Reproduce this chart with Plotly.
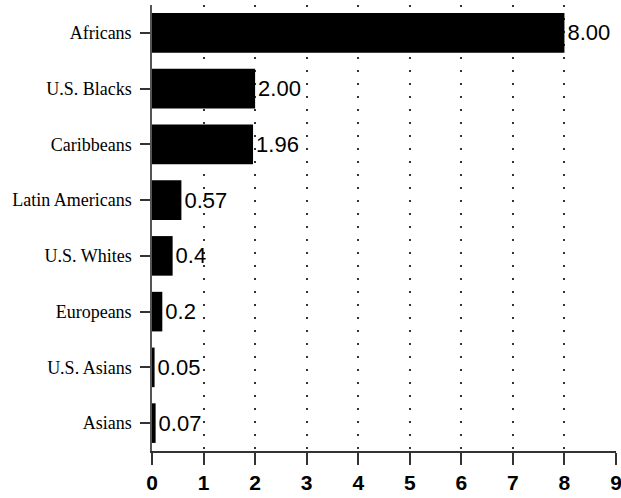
import plotly.graph_objects as go

categories = ["Africans", "U.S. Blacks", "Caribbeans", "Latin Americans",
              "U.S. Whites", "Europeans", "U.S. Asians", "Asians"]
values = [8.00, 2.00, 1.96, 0.57, 0.4, 0.2, 0.05, 0.07]
value_labels = ["8.00", "2.00", "1.96", "0.57", "0.4", "0.2", "0.05", "0.07"]
x_ticks = [0, 1, 2, 3, 4, 5, 6, 7, 8, 9]

fig = go.Figure(go.Bar(
    x=values,
    y=categories,
    orientation="h",
    marker=dict(color="black", line=dict(width=0)),
    text=value_labels,
    textposition="outside",
    textfont=dict(family="Liberation Sans", size=22, color="black"),
    constraintext="none",
    cliponaxis=False,
))

fig.update_layout(
    width=621,
    height=498,
    margin=dict(l=152, r=5, t=5, b=47, autoexpand=False),
    paper_bgcolor="white",
    plot_bgcolor="white",
    bargap=0.29,
    showlegend=False,
)

fig.update_xaxes(
    range=[0, 9],
    tickvals=x_ticks,
    ticktext=[str(t) for t in x_ticks],
    showgrid=True,
    gridcolor="#333333",
    gridwidth=2,
    griddash="2px,11px",
    zeroline=False,
    showline=True,
    linecolor="#333333",
    linewidth=1.5,
    ticks="outside",
    ticklen=12,
    tickwidth=1.5,
    tickcolor="#333333",
    tickfont=dict(family="Liberation Sans", size=21, color="black", weight="bold"),
    ticklabelstandoff=0,
    ticklabeloverflow="allow",
    automargin=False,
    fixedrange=True,
)

fig.update_yaxes(
    categoryorder="array",
    categoryarray=categories,
    autorange="reversed",
    showgrid=False,
    zeroline=False,
    showline=True,
    linecolor="#555555",
    linewidth=1.5,
    ticks="outside",
    ticklen=10,
    tickwidth=1.5,
    tickcolor="#333333",
    tickfont=dict(family="Liberation Serif", size=18, color="black"),
    ticklabelstandoff=5,
    automargin=False,
    fixedrange=True,
)

fig.write_html("out.html", config={"displayModeBar": False},
               post_script="document.body.style.margin='0';document.body.style.overflow='hidden';")
